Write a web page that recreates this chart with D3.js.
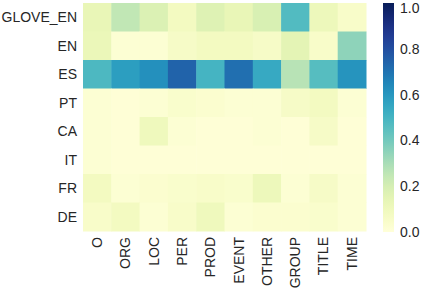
<!DOCTYPE html>
<html>
<head>
<meta charset="utf-8">
<script src="https://d3js.org/d3.v7.min.js"></script>
<style>
  body { margin: 0; background: #fff; }
  text { font-family: "Liberation Sans", Arial, sans-serif; fill: #262626; }
</style>
</head>
<body>
<div id="chart"></div>
<script>
const rows = ['GLOVE_EN', 'EN', 'ES', 'PT', 'CA', 'IT', 'FR', 'DE'];
const cols = ['O', 'ORG', 'LOC', 'PER', 'PROD', 'EVENT', 'OTHER', 'GROUP', 'TITLE', 'TIME'];

// one array per row, values in column order
const glove_en = [0.13, 0.25, 0.18, 0.08, 0.17, 0.13, 0.19, 0.47, 0.11, 0.05];
const en       = [0.12, 0.02, 0.02, 0.06, 0.08, 0.08, 0.06, 0.15, 0.05, 0.35];
const es       = [0.48, 0.58, 0.62, 0.74, 0.50, 0.71, 0.54, 0.27, 0.46, 0.61];
const pt       = [0.02, 0.01, 0.02, 0.04, 0.03, 0.02, 0.02, 0.06, 0.08, 0.02];
const ca       = [0.02, 0.01, 0.10, 0.02, 0.01, 0.01, 0.02, 0.01, 0.06, 0.01];
const it       = [0.02, 0.01, 0.01, 0.01, 0.01, 0.01, 0.01, 0.01, 0.01, 0.01];
const fr       = [0.08, 0.02, 0.03, 0.04, 0.05, 0.04, 0.11, 0.02, 0.06, 0.02];
const de       = [0.05, 0.08, 0.02, 0.05, 0.10, 0.02, 0.03, 0.03, 0.04, 0.02];
const values = [glove_en, en, es, pt, ca, it, fr, de];

const cbarTicks = [0.0, 0.2, 0.4, 0.6, 0.8, 1.0];

const width = 425, height = 290;
const svg = d3.select('#chart').append('svg')
    .attr('width', width)
    .attr('height', height);

// heatmap area
const hmLeft = 83, hmRight = 366, hmTop = 3, hmBottom = 231;

const x = d3.scaleBand().domain(cols).range([hmLeft, hmRight]);
const y = d3.scaleBand().domain(rows).range([hmTop, hmBottom]);
const color = d3.scaleSequential(d3.interpolateYlGnBu).domain([0, 1]);

const cells = [];
values.forEach((row, i) => row.forEach((v, j) => cells.push({r: rows[i], c: cols[j], v})));

svg.append('g').selectAll('rect')
    .data(cells)
    .join('rect')
    .attr('x', d => x(d.c))
    .attr('y', d => y(d.r))
    .attr('width', x.bandwidth() + 0.5)
    .attr('height', y.bandwidth() + 0.5)
    .attr('fill', d => color(d.v));

// row labels
svg.append('g').selectAll('text')
    .data(rows)
    .join('text')
    .attr('x', hmLeft - 6)
    .attr('y', d => y(d) + y.bandwidth() / 2)
    .attr('dy', '0.35em')
    .attr('text-anchor', 'end')
    .attr('font-size', '14px')
    .text(d => d);

// column labels, rotated
svg.append('g').selectAll('text')
    .data(cols)
    .join('text')
    .attr('transform', d => `translate(${x(d) + x.bandwidth() / 2},${hmBottom + 6}) rotate(-90)`)
    .attr('dy', '0.35em')
    .attr('text-anchor', 'end')
    .attr('font-size', '14px')
    .text(d => d);

// colorbar
const cbX = 383, cbW = 11;
const cbScale = d3.scaleLinear().domain([0, 1]).range([232, 3]);
const defs = svg.append('defs');
const grad = defs.append('linearGradient')
    .attr('id', 'cbar')
    .attr('x1', 0).attr('y1', 1).attr('x2', 0).attr('y2', 0);
d3.range(0, 1.0001, 0.05).forEach(t => {
    grad.append('stop').attr('offset', t).attr('stop-color', color(t));
});
svg.append('rect')
    .attr('x', cbX)
    .attr('y', cbScale(1))
    .attr('width', cbW)
    .attr('height', cbScale(0) - cbScale(1))
    .attr('fill', 'url(#cbar)');

// top label nudged down a little so it is not cut at the window edge
svg.append('g').selectAll('text')
    .data(cbarTicks)
    .join('text')
    .attr('x', cbX + cbW + 6)
    .attr('y', d => Math.max(cbScale(d), 8))
    .attr('dy', '0.35em')
    .attr('font-size', '14px')
    .text(d => d.toFixed(1));
</script>
</body>
</html>
